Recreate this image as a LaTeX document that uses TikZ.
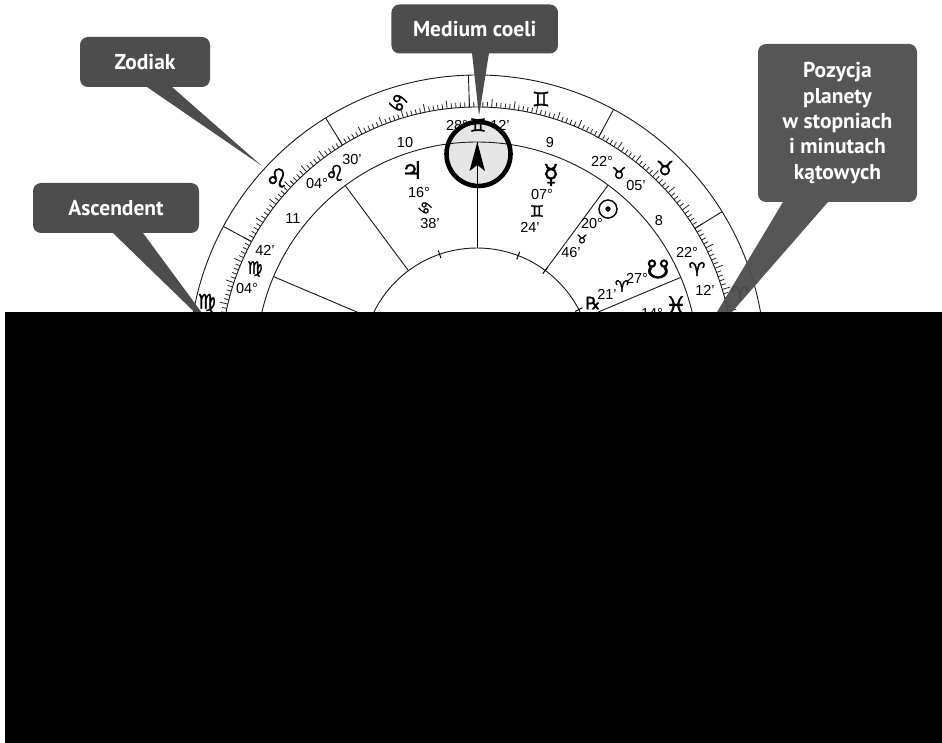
\documentclass[tikz,border=0pt]{standalone}
\usepackage{fontspec}
\setmainfont{Liberation Sans}
\newfontfamily\calloutfont{PT Sans}
\newfontfamily\symfont[FakeBold=1.5]{DejaVu Sans}
\usetikzlibrary{calc}
\definecolor{calloutgray}{HTML}{4D4D4D}
\definecolor{hilite}{HTML}{E6E6E6}
\newcommand{\symsize}[1]{\symfont\fontsize{#1}{#1}\selectfont}
\tikzset{
  x=1pt,y=1pt,
  callout/.style={fill=calloutgray,rounded corners=8pt,inner sep=0pt,text=white,align=center,
    font=\calloutfont\bfseries\fontsize{21.5}{25.4}\selectfont},
  pointer/.style={fill=calloutgray,draw=none},
  ring/.style={line width=0.9pt,black!90},
  lbl/.style={inner sep=0pt,font=\fontsize{14.5}{16}\selectfont},
  sym/.style={inner sep=0pt,font=\symsize{#1}},
}
\begin{document}
\begin{tikzpicture}
\useasboundingbox (0,0) rectangle (942,-743);
\fill[white] (0,0) rectangle (942,-743);
% wheel
\begin{scope}[shift={(477,-363)}]
  \coordinate (c) at (0,0);
  \draw[ring] (c) circle (288);
  \draw[ring] (c) circle (256);
  \foreach \i in {0,...,359}{
    \pgfmathsetmacro{\a}{91.7+\i}
    \pgfmathsetmacro{\l}{ifthenelse(mod(\i,5)==0,264.5,261)}
    \draw[line width=0.8pt,black!85] (\a:256) -- (\a:\l);
  }
  \foreach \a in {1.7,31.7,...,361.7}{\draw[ring] (\a:256) -- (\a:288);}
  \draw[ring] (c) circle (221);
  \draw[ring] (c) circle (115);
  \foreach \a in {126.6,157,53.6,22.8}{\draw[ring] (\a:115) -- (\a:221);}
  \foreach \a in {109,69,53.6,27.7}{\draw[line width=1pt] (\a:111) -- (\a:119);}
\end{scope}
\node[sym=21,rotate=-35] (s1) at (398,-103) {♋};
\node[sym=20] (s2) at (541,-99) {♊};
\node[sym=20] (s3) at (665,-168) {♉};
\node[sym=20] (s4) at (740,-293) {♈};
\node[sym=26] (s5) at (277,-178) {♌};
\node[sym=20] (s6) at (207,-303) {♍};
% labels
\foreach \n/\x/\y/\t in {
 a/457/126/{28°}, b/500/125/{12'}, c/405/143/{10}, d/550/143/{9}, e/293/219/{11}, f/659/221/{8},
 g/352/160/{30'}, h/317/184/{04°}, i/419/193/{16°}, j/430/224/{38'}, k/265/250/{42'}, l/247/289/{04°},
 m/542/195/{07°}, n/530/227/{24'}, o/602/161/{22°}, p/636/186/{05'}, q/592/224/{20°}, r/571/253/{46'},
 s/687/252/{22°}, t/705/290/{12'}, u/637/278/{27°}, v/607/294/{21'}, w/652/313/{14°}}{
  \node[lbl] (t\n) at (\x,-\y) {\t};
}
% highlight ring over the 28/12 labels
\begin{scope}[shift={(477,-363)}]
  \begin{scope}
    \clip (1.5,209) circle (32);
    \fill[hilite] (1.5,209) circle (32);
    \draw[ring] (c) circle (221);
  \end{scope}
  \draw[line width=4.6pt] (1.5,209) circle (32);
\end{scope}
% MC arrow
\coordinate (mcb) at (477.3,-248);
\coordinate (mct) at (477.3,-142);
\draw[line width=1.2pt] (mcb) -- (mct);
\fill (mct) -- (485,-171) -- (477.3,-165) -- (469.5,-171) -- cycle;
\node[sym=18] (y0) at (478,-125) {♊};
\node[sym=22] (y1) at (335,-173) {♌};
\node[sym=24] (y2) at (412,-170) {♃};
\node[sym=15,rotate=-35] (y3) at (425,-208) {♋};
\node[sym=17] (y4) at (255,-269) {♍};
\node[sym=26] (y5) at (551,-175) {☿};
\node[sym=16] (y6) at (537,-211) {♊};
\node[sym=16] (y7) at (619,-173) {♉};
\node[sym=26] (y8) at (608,-209) {☉};
\node[sym=12] (y9) at (582,-239) {♉};
\node[sym=19] (y10) at (697,-269) {♈};
\node[sym=26] (y11) at (658,-269) {☋};
\node[sym=16] (y12) at (622,-286) {♈};
\node[sym=17] (y13) at (593,-303) {℞};
\node[sym=24] (y14) at (676,-305) {♓};
% callouts
\node[callout,minimum width=130pt,minimum height=50pt] (zod) at (145,-62) {Zodiak};
\coordinate (zl) at (147,-87); \coordinate (zr) at (172,-87); \coordinate (zt) at (262,-166);
\fill[pointer] (zl) -- (zt) -- (zr) -- cycle;
\node[callout,minimum width=166pt,minimum height=50pt] (asc) at (116,-208) {Ascendent};
\coordinate (al) at (113,-233); \coordinate (ar) at (143,-233); \coordinate (at) at (219,-336);
\fill[pointer] (al) -- (at) -- (ar) -- cycle;
\node[callout,minimum width=166.5pt,minimum height=49pt] (mc) at (474.7,-29) {Medium coeli};
\coordinate (ml) at (472,-53); \coordinate (mr) at (489,-53); \coordinate (mt) at (479,-116);
\fill[pointer] (ml) -- (mt) -- (mr) -- cycle;
\node[callout,minimum width=159pt,minimum height=158pt,fill opacity=0.95,text opacity=1] (poz) at (837.5,-123) {Pozycja\\planety\\w stopniach\\i minutach\\kątowych};
\coordinate (pl) at (783,-202); \coordinate (pr) at (828,-202); \coordinate (pt) at (684,-367);
\fill[pointer,fill opacity=0.95] (pl) -- (pt) -- (pr) -- cycle;
% black panel
\fill[black] (5,-312) rectangle (942,-743);
\end{tikzpicture}
\end{document}
